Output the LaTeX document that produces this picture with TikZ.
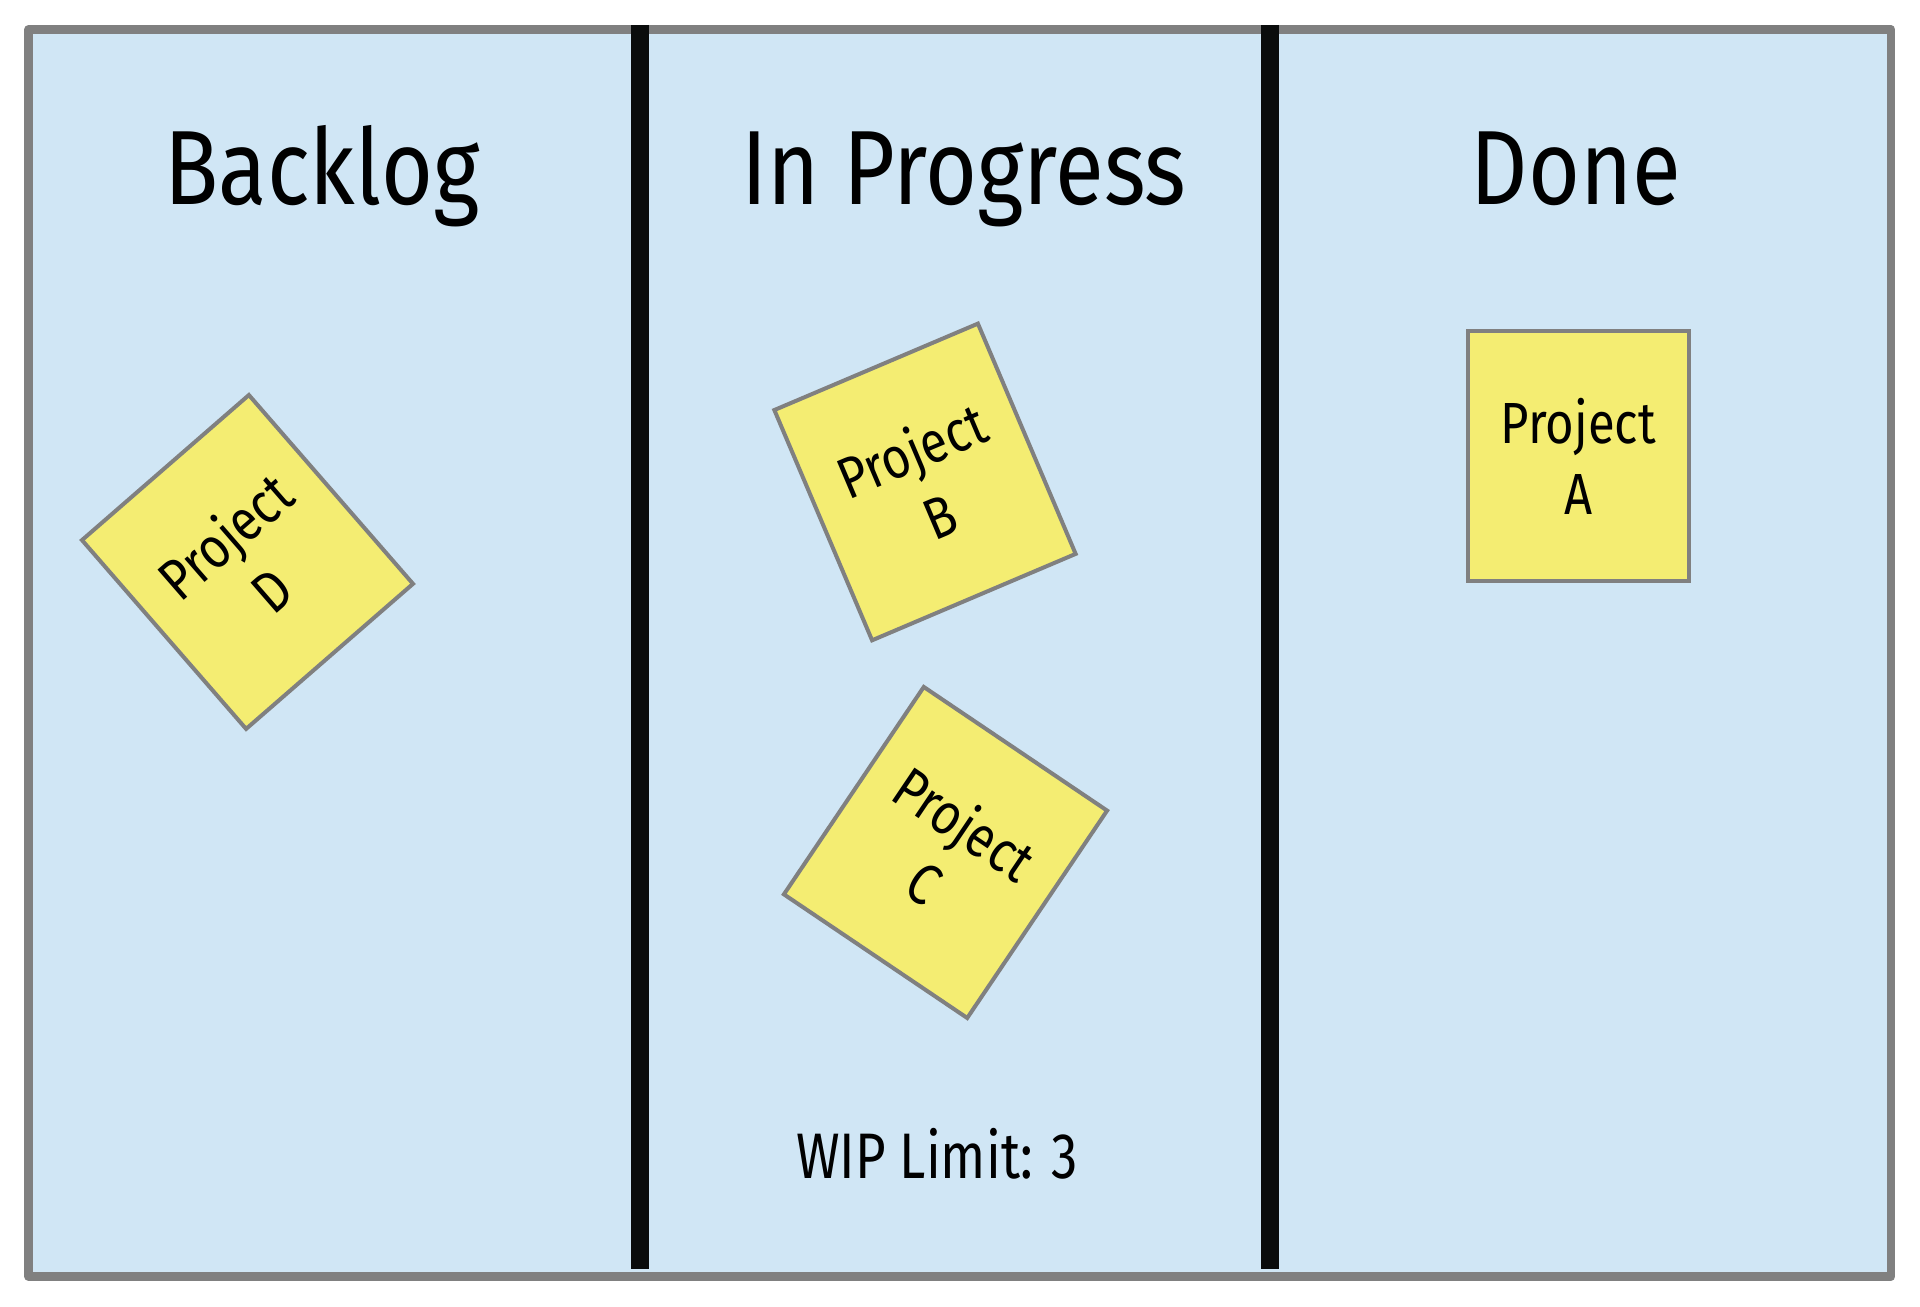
\documentclass[tikz,border=0pt]{standalone}
\usepackage{fontspec}
\setmainfont[FakeStretch=0.845]{Fira Sans}
\usepackage{tikz}
\usetikzlibrary{positioning}

\definecolor{boardblue}{RGB}{208,230,245}
\definecolor{noteyellow}{RGB}{244,237,114}
\definecolor{framegray}{RGB}{128,128,128}
\definecolor{barblack}{RGB}{10,12,12}

\begin{document}
\begin{tikzpicture}[x=0.01cm,y=0.01cm,
    title/.style={anchor=base,font=\fontsize{30}{36}\selectfont},
    note/.style={draw=framegray,fill=noteyellow,line width=0.04cm,
        minimum width=2.21cm,minimum height=2.5cm,inner sep=0pt,
        align=center,font=\fontsize{16.5}{20.2}\selectfont}]
    \useasboundingbox[fill=white] (0,0) rectangle (1920,1307);

    % Board
    \draw[fill=boardblue,draw=framegray,line width=0.085cm,line join=round]
        (28.5,30.5) rectangle (1891,1277.5);
    \draw[barblack,line width=0.18cm] (640,1282) -- (640,38);
    \draw[barblack,line width=0.18cm] (1270,1282) -- (1270,38);

    % Column titles
    \node[title] (backlog) at (322,1102) {Backlog};
    \node[title] (progress) at (964,1102) {In Progress};
    \node[title] (done) at (1576,1102) {Done};

    % Sticky notes
    \node[note,rotate=41] (D) at (247.5,745) {Project\\D};
    \node[note,rotate=23] (B) at (925,825) {Project\\B};
    \node[note,rotate=-34] (C) at (945.5,454.5) {Project\\C};
    \node[note] (A) at (1578.5,851) {Project\\A};

    \node[anchor=base,font=\fontsize{18.3}{22}\selectfont,inner sep=0pt]
        (wip) at (937,128) {\addfontfeature{FakeStretch=0.82}WIP Limit: 3};
\end{tikzpicture}
\end{document}
